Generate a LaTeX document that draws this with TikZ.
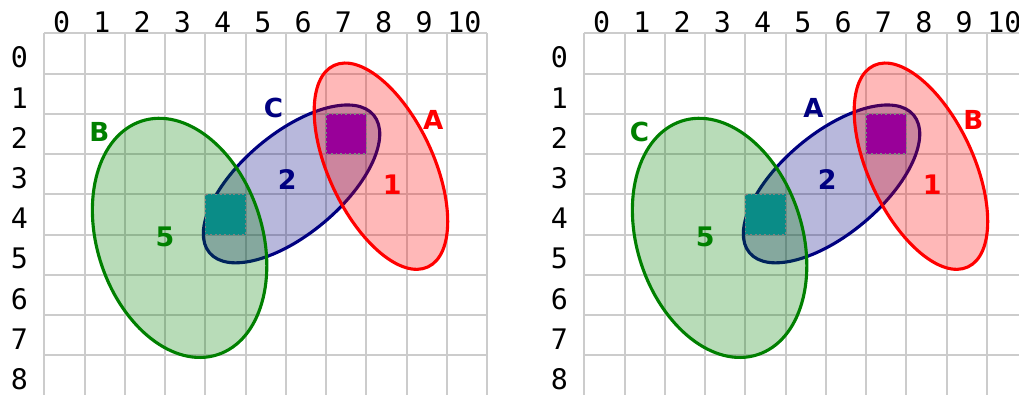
\documentclass[tikz,border=0pt]{standalone}
\usepackage{fontspec}
\setsansfont{DejaVu Sans}
\setmonofont{DejaVu Sans Mono}
\definecolor{SetRed}{rgb}{1,0,0}
\definecolor{SetNavy}{rgb}{0,0,0.5}
\definecolor{SetGreen}{rgb}{0,0.5,0}
\definecolor{CellPurple}{rgb}{0.6,0,0.6}
\definecolor{CellTeal}{rgb}{0.04,0.55,0.53}
\definecolor{GridClr}{rgb}{0.8,0.8,0.8}

\begin{document}
\begin{tikzpicture}[
  setshape/.style={line width=2.2pt,fill opacity=0.28},
  setname/.style={font=\sffamily\bfseries\fontsize{18.5}{22}\selectfont},
  regnum/.style={font=\sffamily\bfseries\fontsize{19}{22}\selectfont},
  axisnum/.style={font=\ttfamily\fontsize{20}{24}\selectfont},
  cellmark/.style={draw=gray,line width=1.2pt,dash pattern=on 1.2pt off 2pt}]
\useasboundingbox (-1.100,0.827) rectangle (24.205,-8.982);

\foreach \dx/\nr/\nb/\ng/\p in {0/A/C/B/L,13.41/B/A/C/R}{
\begin{scope}[xshift=\dx cm]
\draw[GridClr,line width=1.4pt] (0,0) grid (11,-9);

\foreach \c in {0,...,10}
  \node[axisnum] (col\p\c) at (\c+0.43,0.28) {\c};
\foreach \r in {0,...,8}
  \node[axisnum] (row\p\r) at (-0.62,-\r-0.6) {\r};

\coordinate (red\p) at (8.36,-3.30);
\coordinate (navy\p) at (6.14,-3.74);
\coordinate (green\p) at (3.36,-5.08);

% the three sets
\draw[setshape,draw=SetNavy,fill=SetNavy,rotate around={40:(navy\p)}]
  (navy\p) ellipse (2.66 and 1.25);
\draw[setshape,draw=SetGreen,fill=SetGreen,rotate around={-72:(green\p)}]
  (green\p) ellipse (3.05 and 2.05);
\draw[setshape,draw=SetRed,fill=SetRed,rotate around={-65:(red\p)}]
  (red\p) ellipse (2.76 and 1.30);

% marked cells
\filldraw[cellmark,fill=CellPurple] (7,-2) rectangle (8,-3);
\filldraw[cellmark,fill=CellTeal] (4,-4) rectangle (5,-5);

\node[setname,text=SetRed] (nameR\p) at (9.66,-2.15) {\nr};
\node[setname,text=SetNavy] (nameN\p) at (5.69,-1.86) {\nb};
\node[setname,text=SetGreen] (nameG\p) at (1.37,-2.44) {\ng};

\node[regnum,text=SetRed] (one\p) at (8.64,-3.77) {1};
\node[regnum,text=SetNavy] (two\p) at (6.03,-3.64) {2};
\node[regnum,text=SetGreen] (five\p) at (3.00,-5.05) {5};
\end{scope}
}
\end{tikzpicture}
\end{document}
